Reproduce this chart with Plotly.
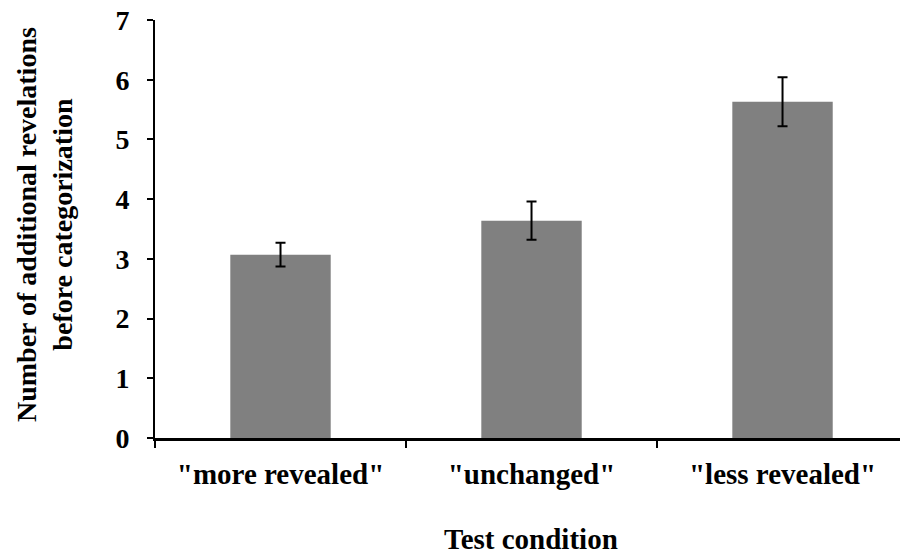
import plotly.graph_objects as go

categories = ['"more revealed"', '"unchanged"', '"less revealed"']
means = [3.07, 3.64, 5.63]
errors = [0.20, 0.32, 0.41]
y_ticks = [0, 1, 2, 3, 4, 5, 6, 7]

FONT = "Liberation Serif"
L, R, T, B = 155, 0, 20, 120
W, H = 900, 558

fig = go.Figure(
    go.Bar(
        x=categories,
        y=means,
        marker=dict(color="#808080", line=dict(width=0)),
        error_y=dict(type="data", array=errors, visible=True, color="black",
                     thickness=2, width=5),
        width=0.4,
    )
)

fig.update_layout(
    width=W, height=H,
    margin=dict(l=L, r=R, t=T, b=B, autoexpand=False),
    plot_bgcolor="white", paper_bgcolor="white",
    showlegend=False,
    font=dict(family=FONT, size=28, color="black", weight="bold"),
)

fig.update_xaxes(
    range=[-0.5, 2.468],
    showline=True, linecolor="black", linewidth=3,
    ticks="outside", tickson="boundaries", ticklen=7, tickwidth=2, tickcolor="black",
    showgrid=False, automargin=False,
    tickfont=dict(family=FONT, size=29, weight="bold"),
    ticklabelstandoff=8,
)
fig.update_yaxes(
    range=[0, 7], tickvals=y_ticks,
    showline=True, linecolor="black", linewidth=2,
    ticks="outside", ticklen=6, tickwidth=2, tickcolor="black",
    showgrid=False, zeroline=False, automargin=False,
    tickfont=dict(family=FONT, size=28, weight="bold"),
    ticklabelstandoff=12,
)

plot_w = W - L - R
plot_h = H - T - B
fig.add_annotation(
    text="Test condition", xref="paper", yref="paper",
    x=(531 - L) / plot_w, y=-(557 - (H - B)) / plot_h,
    xanchor="center", yanchor="bottom", showarrow=False,
    font=dict(family=FONT, size=29, weight="bold"),
)
fig.add_annotation(
    text="Number of additional revelations<br>before categorization",
    xref="paper", yref="paper",
    x=-(L - 45) / plot_w, y=(438 - 225) / plot_h,
    xanchor="center", yanchor="middle", showarrow=False, textangle=-90,
    font=dict(family=FONT, size=28, weight="bold"),
)

fig.write_html("out.html", config={"displayModeBar": False},
               post_script="document.body.style.margin='0';")
